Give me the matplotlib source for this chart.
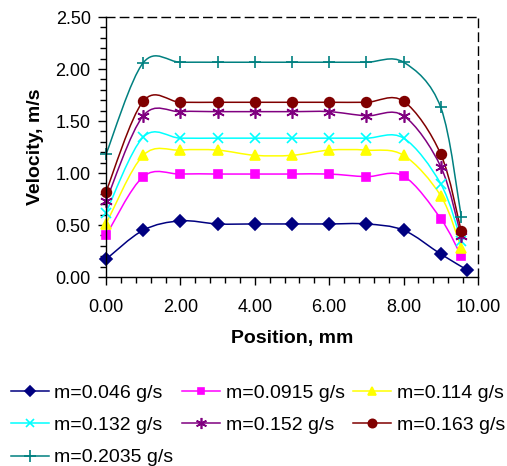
import numpy as np
import matplotlib.pyplot as plt
from matplotlib.path import Path
from matplotlib.patches import PathPatch
from matplotlib.lines import Line2D
from matplotlib.ticker import MultipleLocator, FormatStrFormatter

plt.rcParams['font.family'] = ['Liberation Sans', 'DejaVu Sans']

# Positions (mm) of the measurement points
pos = [0, 1, 2, 3, 4, 5, 6, 7, 8, 9, 9.55]
pos_last = [0, 1, 2, 3, 4, 5, 6, 7, 8, 9, 9.7]

# Velocity (m/s) for each mass flow rate
v_0046 = [0.17, 0.45, 0.54, 0.51, 0.51, 0.51, 0.51, 0.51, 0.45, 0.22, 0.07]
v_0915 = [0.40, 0.965, 0.99, 0.99, 0.99, 0.99, 0.99, 0.965, 0.97, 0.56, 0.20]
v_0114 = [0.51, 1.17, 1.22, 1.22, 1.17, 1.17, 1.22, 1.22, 1.17, 0.78, 0.28]
v_0132 = [0.62, 1.345, 1.335, 1.335, 1.335, 1.335, 1.335, 1.335, 1.335, 0.895, 0.35]
v_0152 = [0.73, 1.55, 1.59, 1.59, 1.59, 1.59, 1.59, 1.55, 1.55, 1.06, 0.39]
v_0163 = [0.82, 1.69, 1.68, 1.68, 1.68, 1.68, 1.68, 1.68, 1.69, 1.18, 0.44]
v_2035 = [1.18, 2.06, 2.065, 2.065, 2.065, 2.065, 2.065, 2.065, 2.065, 1.63, 0.58]

labels = ['m=0.046 g/s', 'm=0.0915 g/s', 'm=0.114 g/s', 'm=0.132 g/s',
          'm=0.152 g/s', 'm=0.163 g/s', 'm=0.2035 g/s']
series = [(pos_last, v_0046), (pos, v_0915), (pos, v_0114), (pos, v_0132),
          (pos, v_0152), (pos, v_0163), (pos, v_2035)]
colors = ['#000080', '#FF00FF', '#FFFF00', '#00FFFF', '#800080', '#800000', '#008080']
markers = ['D', 's', '^', 'x', (6, 2, 0), 'o', '+']
msizes = [6, 6, 7, 7, 9, 7, 9]


def smooth_path(x, y):
    # Excel-style smoothed line: cubic Bezier segments through the points
    p = np.column_stack([x, y]).astype(float)
    n = len(p)
    verts = [p[0]]
    codes = [Path.MOVETO]
    for i in range(n - 1):
        p0 = p[i - 1] if i > 0 else p[i]
        p3 = p[i + 2] if i + 2 < n else p[i + 1]
        c1 = p[i] + (p[i + 1] - p0) / 6
        c2 = p[i + 1] - (p3 - p[i]) / 6
        verts += [c1, c2, p[i + 1]]
        codes += [Path.CURVE4] * 3
    return Path(verts, codes)


fig = plt.figure(figsize=(5.07, 4.66), dpi=100)
ax = fig.add_axes([106 / 507, 1 - 277 / 466, 372 / 507, 260 / 466])

handles = []
for (x, y), c, m, ms, lab in zip(series, colors, markers, msizes, labels):
    ax.add_patch(PathPatch(smooth_path(x, y), facecolor='none', edgecolor=c, lw=1.1))
    ax.plot(x, y, linestyle='none', marker=m, color=c, ms=ms, mew=1.2, clip_on=False)
    handles.append(Line2D([], [], color=c, marker=m, ms=ms - 1, mew=1.2, lw=1.1, label=lab))

ax.set_xlim(0, 10)
ax.set_ylim(0, 2.5)
ax.xaxis.set_major_locator(MultipleLocator(2))
ax.xaxis.set_minor_locator(MultipleLocator(0.4))
ax.yaxis.set_major_locator(MultipleLocator(0.5))
ax.yaxis.set_minor_locator(MultipleLocator(0.1))
ax.xaxis.set_major_formatter(FormatStrFormatter('%.2f'))
ax.yaxis.set_major_formatter(FormatStrFormatter('%.2f'))
ax.tick_params(which='major', direction='out', length=6, width=1, labelsize=13, pad=5)
ax.tick_params(which='minor', direction='out', length=4, width=1)
ax.tick_params(axis='x', which='major', pad=10)

for s in ['top', 'right']:
    ax.spines[s].set_linestyle((0, (6, 4)))
    ax.spines[s].set_linewidth(1)
for s in ['left', 'bottom']:
    ax.spines[s].set_linewidth(1)

ax.set_xlabel('Position, mm', fontsize=14, fontweight='bold', labelpad=10)
ax.set_ylabel('Velocity, m/s', fontsize=14, fontweight='bold', labelpad=8)

# row-major order in the legend (matplotlib fills columns first)
order = [0, 3, 6, 1, 4, 2, 5]
fig.legend(handles=[handles[i] for i in order], ncol=3, loc='upper left',
           bbox_to_anchor=(11 / 507, 1 - 384 / 466), borderpad=0, borderaxespad=0,
           frameon=False, fontsize=14, handlelength=1.95, handletextpad=0.28,
           columnspacing=0.45, labelspacing=0.76)

fig.savefig('out.png', dpi=100)
